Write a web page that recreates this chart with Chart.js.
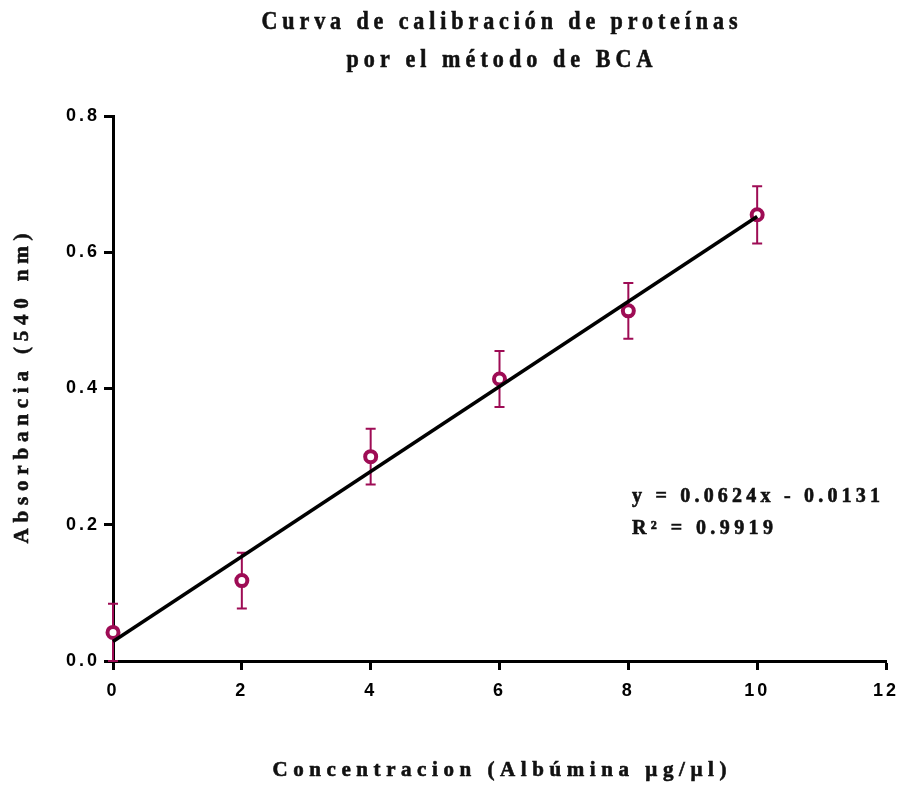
<!DOCTYPE html>
<html lang="es">
<head>
  <meta charset="UTF-8">
  <title>Curva de calibración BCA</title>
  <script src="https://cdn.jsdelivr.net/npm/chart.js"></script>
  <style>
    html, body { margin: 0; padding: 0; background: #fff; }
    #wrap { width: 899px; height: 786px; }
  </style>
</head>
<body>
  <div id="wrap"><canvas id="bcaChart" width="899" height="786"></canvas></div>

  <script>
    // datos de la curva (concentración vs absorbancia)
    const concentracion = [0, 2, 4, 6, 8, 10];
    const absorbancia = [0.042, 0.118, 0.300, 0.414, 0.514, 0.655];
    const desviacion = [0.042, 0.041, 0.041, 0.041, 0.041, 0.042];

    // recta de ajuste dibujada
    const ajusteX = [0, 10];
    const ajusteY = [0.0285, 0.6525];

    const xTicks = [0, 2, 4, 6, 8, 10, 12];
    const yTicks = [0.0, 0.2, 0.4, 0.6, 0.8];

    const titulo = ['Curva de calibración de proteínas', 'por el método de BCA'];
    const tituloX = 'Concentracion (Albúmina µg/µl)';
    const tituloY = 'Absorbancia (540 nm)';
    const ecuacion = ['y = 0.0624x - 0.0131', 'R² = 0.9919'];

    const magenta = '#9E0C55';

    // barras de error debajo de los marcadores
    const errorBars = {
      id: 'errorBars',
      beforeDraw(chart) {
        // etiquetas de los ejes algo espaciadas
        chart.ctx.letterSpacing = '3px';
      },
      beforeDatasetsDraw(chart) {
        const { ctx, scales: { x, y } } = chart;
        ctx.letterSpacing = '0px';
        ctx.save();
        ctx.strokeStyle = magenta;
        ctx.lineWidth = 2;
        concentracion.forEach((c, i) => {
          const px = x.getPixelForValue(c);
          const top = y.getPixelForValue(absorbancia[i] + desviacion[i]);
          const bot = y.getPixelForValue(absorbancia[i] - desviacion[i]);
          ctx.beginPath();
          ctx.moveTo(px, top); ctx.lineTo(px, bot);
          ctx.moveTo(px - 5, top); ctx.lineTo(px + 5, top);
          ctx.moveTo(px - 5, bot); ctx.lineTo(px + 5, bot);
          ctx.stroke();
        });
        ctx.restore();
      }
    };

    // texto serif espaciado para ocupar un ancho dado (x = borde izquierdo)
    function spaced(ctx, text, x, y, size, width, squeeze) {
      ctx.save();
      ctx.font = 'bold ' + size + 'px "Liberation Serif", "Times New Roman", serif';
      ctx.letterSpacing = '0px';
      const w0 = ctx.measureText(text).width * squeeze;
      const n = [...text].length;
      const sp = (width - w0) / (n - 1) / squeeze;
      ctx.letterSpacing = sp + 'px';
      ctx.textAlign = 'left';
      ctx.textBaseline = 'middle';
      ctx.translate(x, y);
      ctx.scale(squeeze, 1);
      ctx.lineWidth = 0.6;
      ctx.strokeStyle = ctx.fillStyle;
      ctx.fillText(text, 0, 0);
      ctx.strokeText(text, 0, 0);
      ctx.restore();
    }

    const textos = {
      id: 'textos',
      afterDraw(chart) {
        const { ctx, chartArea } = chart;
        const cx = (chartArea.left + chartArea.right) / 2;
        const cy = (chartArea.top + chartArea.bottom) / 2;
        ctx.save();
        ctx.fillStyle = '#111';
        spaced(ctx, titulo[0], cx - 238, 22, 26, 476, 0.85);
        spaced(ctx, titulo[1], cx - 153, 60, 26, 306, 0.85);
        spaced(ctx, tituloX, cx - 227, 771, 21, 454, 1);
        spaced(ctx, ecuacion[0], 632, 497, 20, 248, 1);
        spaced(ctx, ecuacion[1], 632, 529, 20, 141, 1);
        ctx.translate(23, cy);
        ctx.rotate(-Math.PI / 2);
        spaced(ctx, tituloY, -155, 0, 21, 310, 1);
        ctx.restore();
      }
    };

    const ejeComun = {
      type: 'linear',
      grid: { drawOnChartArea: false, drawTicks: true, tickLength: 9, tickWidth: 3, tickColor: '#000' },
      border: { display: true, width: 3, color: '#000' },
      ticks: {
        color: '#000',
        font: { family: '"Liberation Sans", Arial, sans-serif', size: 18, weight: 'bold' }
      }
    };

    const ctx = document.getElementById('bcaChart').getContext('2d');
    new Chart(ctx, {
      type: 'scatter',
      data: {
        datasets: [
          {
            type: 'line',
            data: ajusteX.map((v, i) => ({ x: v, y: ajusteY[i] })),
            borderColor: '#000',
            borderWidth: 3.5,
            pointRadius: 0,
            fill: false,
            order: 0
          },
          {
            data: concentracion.map((v, i) => ({ x: v, y: absorbancia[i] })),
            pointStyle: 'circle',
            pointRadius: 5.5,
            pointBorderWidth: 4,
            pointBorderColor: magenta,
            pointBackgroundColor: '#fff',
            order: 1
          }
        ]
      },
      options: {
        responsive: false,
        animation: false,
        clip: false,
        layout: { padding: { top: 116, right: 13, left: 0, bottom: 0 } },
        plugins: { legend: { display: false }, tooltip: { enabled: false } },
        scales: {
          x: {
            ...ejeComun,
            min: 0, max: 12,
            afterBuildTicks: s => { s.ticks = xTicks.map(v => ({ value: v })); },
            afterFit: s => { s.height = 125; s.paddingLeft = 0; s.paddingRight = 0; },
            ticks: { ...ejeComun.ticks, padding: 10, maxRotation: 0,
              callback: v => String(v) }
          },
          y: {
            ...ejeComun,
            min: 0, max: 0.8,
            afterBuildTicks: s => { s.ticks = yTicks.map(v => ({ value: v })); },
            afterFit: s => { s.width = 113; s.paddingTop = 0; s.paddingBottom = 0; },
            ticks: { ...ejeComun.ticks, padding: 4,
              callback: v => v.toFixed(1) }
          }
        }
      },
      plugins: [errorBars, textos]
    });
  </script>
</body>
</html>
